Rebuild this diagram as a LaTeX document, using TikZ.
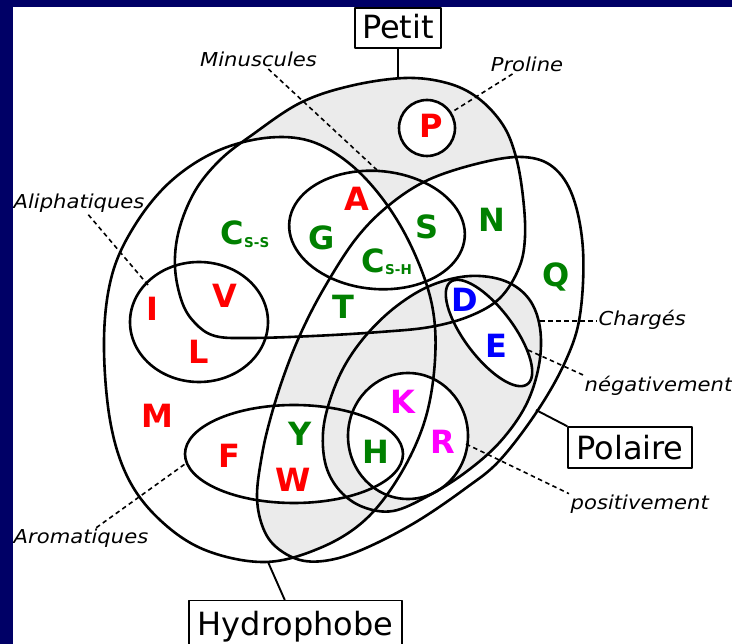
\documentclass[tikz,border=0pt]{standalone}
\usepackage{fontspec}
\setmainfont{DejaVu Sans}
\newfontfamily\lblfont{DejaVu Sans}[FakeStretch=1.1]
\usetikzlibrary{calc}
\definecolor{navy}{RGB}{0,0,102}
\definecolor{grayfill}{RGB}{235,235,235}
\definecolor{aared}{RGB}{255,0,0}
\definecolor{aagreen}{RGB}{0,128,0}
\definecolor{aablue}{RGB}{0,0,255}
\definecolor{aamag}{RGB}{255,0,255}

\def\PathH{plot[smooth cycle,tension=0.6] coordinates {(104,340) (112,275) (135,225) (170,182) (215,152) (265,138) (310,141) (350,164) (385,202) (413,250) (432,305) (435,360) (425,420) (400,475) (365,520) (320,548) (265,562) (205,550) (160,520) (128,478) (110,420)}}
\def\PathS{plot[smooth cycle,tension=0.6] coordinates {(405,78) (447,83) (478,98) (503,125) (516,157) (523,197) (525,237) (519,268) (500,298) (470,316) (430,327) (380,332) (313,336) (250,338) (215,336) (195,323) (182,302) (175,267) (179,230) (195,191) (220,160) (252,135) (300,103) (350,86)}}
\def\PathPo{plot[smooth cycle,tension=0.6] coordinates {(257,495) (262,455) (270,420) (283,378) (300,335) (323,290) (355,240) (388,206) (428,180) (480,163) (523,157) (553,167) (573,197) (583,250) (580,315) (566,360) (538,410) (500,460) (466,488) (416,522) (366,548) (330,560) (300,560) (275,546) (262,525)}}
\def\PathC{plot[smooth cycle,tension=0.6] coordinates {(470,276) (505,281) (529,299) (540,328) (539,365) (526,405) (500,442) (466,472) (428,496) (393,511) (363,507) (340,491) (326,466) (323,433) (330,400) (345,365) (368,333) (398,305) (432,285)}}
\def\PathT{plot[domain=0:360,samples=90,variable=\t] ({377+87.7*cos(\t)-5.1*sin(\t)},{230+7.7*cos(\t)+58.8*sin(\t)}) -- cycle}
\def\PathAl{(199,322) ellipse [x radius=69pt, y radius=60pt]}
\def\PathAr{(294,454) ellipse [x radius=109pt, y radius=49pt]}
\def\PathPr{(427,128) circle [radius=28pt]}
\def\PathN{plot[domain=0:360,samples=90,variable=\t] ({489+38.5*cos(\t)-19.6*sin(\t)},{333+51.1*cos(\t)+14.7*sin(\t)}) -- cycle}
\def\PathPos{(408,436) ellipse [x radius=60pt, y radius=63pt]}

\begin{document}
\begin{tikzpicture}[x=1pt,y=-1pt,line join=round,
  setline/.style={line width=2.6pt},
  aa/.style={font=\fontsize{32}{32}\selectfont\bfseries, inner sep=0pt},
  lbl/.style={font=\lblfont\itshape\fontsize{19.2}{20}\selectfont, inner sep=1.5pt, anchor=base},
  dashline/.style={line width=1.6pt, dash pattern=on 4.5pt off 3.5pt},
  boxlbl/.style={draw, line width=1.5pt, font=\fontsize{32}{32}\selectfont, fill=white, inner sep=0pt},
  boxline/.style={line width=1.9pt}]
\useasboundingbox (0,0) rectangle (732,644);
\fill[white] (0,0) rectangle (732,644);

% empty regions in gray
\begin{scope}
  \clip \PathS;
  \fill[grayfill] \PathS;
  \fill[white] \PathH;
  \fill[white] \PathPo;
  \fill[white] \PathPr;
\end{scope}
\begin{scope}
  \clip \PathH;
  \clip \PathPo;
  \fill[grayfill] \PathPo;
  \fill[white] \PathS;
  \fill[white] \PathAr;
  \fill[white] \PathC;
\end{scope}
\begin{scope}
  \clip \PathC;
  \fill[grayfill] \PathC;
  \fill[white] \PathN;
  \fill[white] \PathPos;
\end{scope}

% outlines
\draw[setline] \PathH;
\draw[setline] \PathS;
\draw[setline] \PathPo;
\draw[setline] \PathC;
\draw[setline] \PathT;
\draw[setline] \PathAl;
\draw[setline] \PathAr;
\draw[setline] \PathPr;
\draw[setline] \PathN;
\draw[setline] \PathPos;

% letters
\node[aa,text=aared] (P) at (431,126) {P};
\node[aa,text=aared] (A) at (357,199) {A};
\node[aa,text=aagreen] (G) at (322,238) {G};
\node[aa,text=aagreen] (S) at (427,227) {S};
\node[aa,text=aagreen] (N) at (492,220) {N};
\node[aa,text=aagreen] (T) at (343,307) {T};
\node[aa,text=aagreen,anchor=base] (Q) at (556,287) {Q};
\node[aa,text=aablue] (D) at (465,300) {D};
\node[aa,text=aablue] (E) at (496,346) {E};
\node[aa,text=aared] (I) at (152,309) {I};
\node[aa,text=aared] (V) at (225,296) {V};
\node[aa,text=aared] (L) at (199,352) {L};
\node[aa,text=aared] (M) at (157,416) {M};
\node[aa,text=aared] (F) at (229,456) {F};
\node[aa,text=aagreen] (Y) at (300,434) {Y};
\node[aa,text=aared] (W) at (293,480) {W};
\node[aa,text=aagreen] (H) at (376,452) {H};
\node[aa,text=aamag] (K) at (403,402) {K};
\node[aa,text=aamag] (R) at (443,442) {R};
\node[aa,text=aagreen,anchor=base west] (Css) at (220.5,245) {C\raisebox{-3pt}{\fontsize{13.5}{13.5}\selectfont S-S}};
\node[aa,text=aagreen,anchor=base west] (Csh) at (361.5,273) {C\raisebox{-2pt}{\fontsize{13.5}{13.5}\selectfont S-H}};

% set labels
\node[lbl] (minus) at (258.5,67) {Minuscules};
\node[lbl] (prol) at (527,72) {Proline};
\node[lbl] (aliph) at (79,209) {Aliphatiques};
\node[lbl,anchor=base west] (chg) at (597,326) {Chargés};
\node[lbl,anchor=base west] (neg) at (583,392) {négativement};
\node[lbl,anchor=base west] (posi) at (569,510) {positivement};
\node[lbl] (arom) at (81,544) {Aromatiques};

\coordinate (minusEnd) at (377,170);
\coordinate (prolEnd) at (452,112);
\coordinate (aliphEnd) at (148,285);
\coordinate (chgEnd) at (540,321);
\coordinate (negEnd) at (528,350);
\coordinate (posEnd) at (466,444);
\coordinate (aromEnd) at (185,464);

\draw[dashline] (minus) -- (minusEnd);
\draw[dashline] (prol) -- (prolEnd);
\draw[dashline] (aliph) -- (aliphEnd);
\draw[dashline] (chgEnd) -- (chgEnd -| chg.west);
\draw[dashline] (negEnd) -- (neg.north west);
\draw[dashline] (posEnd) -- (posi.north west);
\draw[dashline] (arom) -- (aromEnd);

% boxed set names
\node[boxlbl, minimum width=86pt, minimum height=40pt, text height=24.3pt, text depth=4pt] (petit) at (398,28) {Petit};
\node[boxlbl, minimum width=124pt, minimum height=41pt] (pol) at (630,447.5) {Polaire};
\node[boxlbl, anchor=north, minimum width=213pt, minimum height=52pt] (hyd) at (295.5,600) {Hydrophobe};

\coordinate (petitEnd) at (398,79);
\coordinate (polEnd) at (536,410);
\coordinate (hydEnd) at (268,562);
\draw[boxline] (petit) -- (petitEnd);
\draw[boxline] (polEnd) -- (pol.north west);
\draw[boxline] (hydEnd) -- ($(hyd.north west)!0.45!(hyd.north east)$);

% frame
\fill[navy] (0,0) rectangle (732,7);
\fill[navy] (0,0) rectangle (13,644);
\end{tikzpicture}
\end{document}
